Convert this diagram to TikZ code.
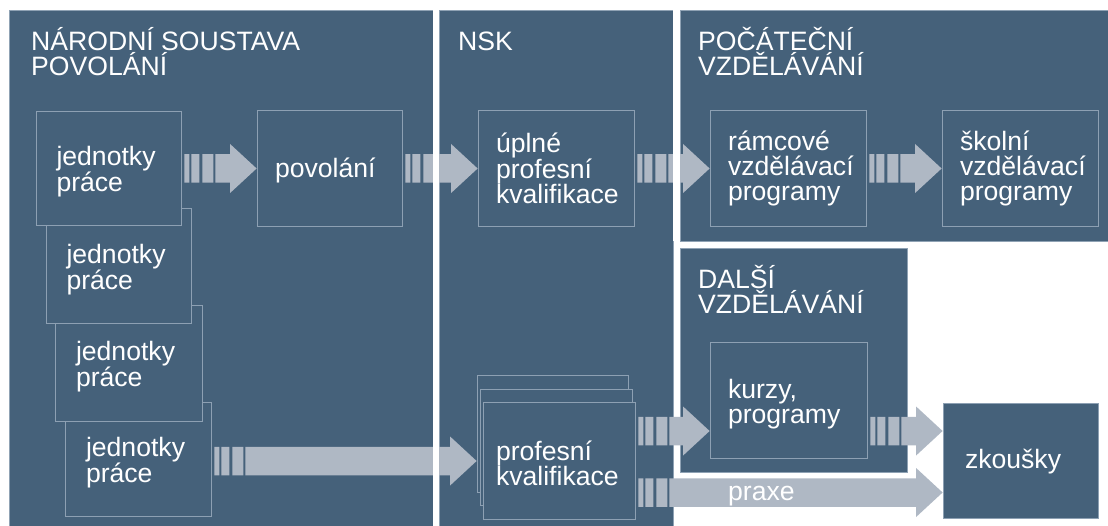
\documentclass[tikz,border=0pt]{standalone}
\usepackage{fontspec}
\setmainfont{Liberation Sans}
\usetikzlibrary{calc}
\definecolor{panel}{HTML}{45617A}
\definecolor{panelline}{HTML}{8FA2B4}
\definecolor{boxline}{HTML}{8DA0B3}
\definecolor{flowc}{HTML}{AFB8C4}
\newcommand\flowarrow[3]{%
  \path[flowfill] let \p1=([xshift=3pt]#1.east |- 0,#3), \p2=(#2.west |- 0,#3) in
    (\x1,\y1-14.25pt) rectangle (\x1+5pt,\y1+14.25pt)
    (\x1+7pt,\y1-14.25pt) rectangle (\x1+15pt,\y1+14.25pt)
    (\x1+18pt,\y1-14.25pt) rectangle (\x1+29pt,\y1+14.25pt)
    (\x1+31pt,\y1-14.25pt) -- (\x2-26.5pt,\y1-14.25pt) -- (\x2-26.5pt,\y1-24.5pt)
    -- (\x2,\y1) -- (\x2-26.5pt,\y1+24.5pt) -- (\x2-26.5pt,\y1+14.25pt)
    -- (\x1+31pt,\y1+14.25pt) -- cycle;
}
\newcommand\lift[1]{\rule{0pt}{#1pt}}
\begin{document}
\begin{tikzpicture}[x=1pt,y=-1pt,
  panelbox/.style={draw=panelline, line width=0.8pt, fill=panel, inner sep=0pt, anchor=north west},
  titletext/.style={anchor=north west, inner sep=0pt, align=left, text=white,
    font=\fontsize{26.6}{25.5}\selectfont},
  innerbox/.style={draw=boxline, line width=0.8pt, fill=panel, inner sep=0pt, align=left,
    text=white, font=\fontsize{26.6}{25}\selectfont},
  flowfill/.style={fill=flowc},
  gap/.style={fill=white, draw=none}]
\useasboundingbox (0,0) rectangle (1108,526);
% panels
\node[panelbox, minimum width=424pt, minimum height=520pt] (nsp) at (9,10) {};
\node[panelbox, minimum width=234pt, minimum height=520pt] (nsk) at (439,10) {};
\node[panelbox, minimum width=432pt, minimum height=231pt] (pv) at (680,10) {};
\node[panelbox, minimum width=227pt, minimum height=224pt] (dv) at (680,248) {};
% titles
\node[titletext] (t1) at (31,24) {\lift{26}NÁRODNÍ SOUSTAVA\\POVOLÁNÍ};
\node[titletext] (t2) at (458,24) {\lift{26}NSK};
\node[titletext] (t3) at (698,24) {\lift{26}POČÁTEČNÍ\\VZDĚLÁVÁNÍ};
\node[titletext] (t4) at (698,262) {\lift{26}DALŠÍ\\VZDĚLÁVÁNÍ};
% stacked work units
\node[innerbox, minimum width=146pt, minimum height=114pt, text width=104pt] (jp4) at (138,459) {\lift{27}jednotky\\práce};
\node[innerbox, minimum width=147pt, minimum height=116pt, text width=105pt] (jp3) at (128.5,363) {\lift{27}jednotky\\práce};
\node[innerbox, minimum width=145pt, minimum height=115pt, text width=104pt] (jp2) at (118.5,265.5) {\lift{27}jednotky\\práce};
\node[innerbox, minimum width=145pt, minimum height=114pt, text width=104pt] (jp1) at (108.5,168) {\lift{27}jednotky\\práce};
% other boxes
\node[innerbox, minimum width=145pt, minimum height=116pt, text width=109pt] (pov) at (329.5,168) {\lift{24}povolání};
\node[innerbox, minimum width=156pt, minimum height=116pt, text width=120pt] (upk) at (556,168) {úplné\\profesní\\kvalifikace};
\node[innerbox, minimum width=156pt, minimum height=116pt, text width=120pt] (rvp) at (788,168) {rámcové\\vzdělávací\\programy};
\node[innerbox, minimum width=156pt, minimum height=116pt, text width=120pt] (svp) at (1020,168) {školní\\vzdělávací\\programy};
\node[innerbox, minimum width=157pt, minimum height=116pt, text width=121pt] (kur) at (788.5,400) {\lift{28}kurzy,\\programy};
\node[innerbox, minimum width=151pt, minimum height=117pt] (pk1) at (552.5,433.5) {};
\node[innerbox, minimum width=152pt, minimum height=116pt] (pk2) at (556,447) {};
\node[innerbox, minimum width=152pt, minimum height=117pt, text width=126pt] (pk3) at (559,460.5) {\lift{25}profesní\\kvalifikace};
\node[innerbox, minimum width=155pt, minimum height=115pt, text width=111pt] (zk) at (1020.5,460.5) {\lift{22}zkoušky};
% arrows cut by the panel gaps
\flowarrow{jp1}{pov}{168.5}
\flowarrow{pov}{upk}{168.5}
\flowarrow{upk}{rvp}{168.5}
\flowarrow{rvp}{svp}{168.5}
\flowarrow{jp4}{pk1}{461}
% gaps between panels
\fill[gap] (433.45,10) rectangle (438.55,527);
\fill[gap] (673.45,10) rectangle (679.55,241);
% arrows over the gaps
\flowarrow{pk3}{kur}{431}
\flowarrow{kur}{zk}{431}
\flowarrow{pk3}{zk}{492.5}
\node[anchor=base west, inner sep=0pt, text=white, font=\fontsize{26.6}{25}\selectfont] (praxe) at (728,500) {praxe};
\end{tikzpicture}
\end{document}
